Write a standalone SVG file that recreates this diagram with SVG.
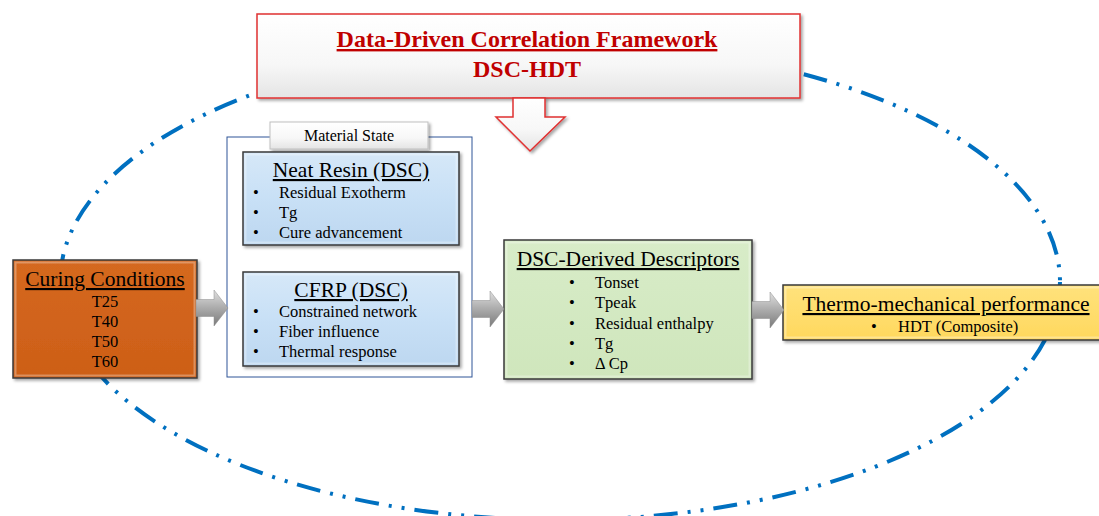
<svg xmlns="http://www.w3.org/2000/svg" width="1099" height="516" viewBox="0 0 1099 516" font-family="'Liberation Serif', 'Times New Roman', serif">
  <style>
    text { font-family: 'Liberation Serif', 'Times New Roman', serif; fill: #000; }
    .title { font-size: 21.5px; text-decoration: underline; text-anchor: middle; }
    .item { font-size: 16.5px; }
    .mid { text-anchor: middle; }
    .head { font-size: 24px; font-weight: bold; fill: #C00000; text-anchor: middle; }
    .box { stroke: #3A3A3A; stroke-width: 1.5; }
    .bevel { fill: none; stroke: #FFFFFF; stroke-opacity: 0.3; stroke-width: 2; }
  </style>
  <defs>
    <linearGradient id="gWhite" x1="0" y1="0" x2="0" y2="1">
      <stop offset="0" stop-color="#FFFFFF"/>
      <stop offset="0.6" stop-color="#F7F7F7"/>
      <stop offset="1" stop-color="#E4E4E4"/>
    </linearGradient>
    <linearGradient id="gBlue" x1="0" y1="0" x2="0" y2="1">
      <stop offset="0" stop-color="#D6E8F8"/>
      <stop offset="0.5" stop-color="#C8E0F6"/>
      <stop offset="1" stop-color="#BDD7F0"/>
    </linearGradient>
    <linearGradient id="gOrange" x1="0" y1="0" x2="0" y2="1">
      <stop offset="0" stop-color="#D56820"/>
      <stop offset="1" stop-color="#CD5F17"/>
    </linearGradient>
    <linearGradient id="gGreen" x1="0" y1="0" x2="0" y2="1">
      <stop offset="0" stop-color="#D8ECC8"/>
      <stop offset="1" stop-color="#CFE6BC"/>
    </linearGradient>
    <linearGradient id="gYellow" x1="0" y1="0" x2="0" y2="1">
      <stop offset="0" stop-color="#FFE27C"/>
      <stop offset="1" stop-color="#FFD85E"/>
    </linearGradient>
    <linearGradient id="gArrow" x1="0" y1="0" x2="0" y2="1">
      <stop offset="0" stop-color="#E0E0E0"/>
      <stop offset="0.45" stop-color="#B0B0B0"/>
      <stop offset="1" stop-color="#7A7A7A"/>
    </linearGradient>
    <filter id="shadow" x="-5%" y="-5%" width="115%" height="125%">
      <feDropShadow dx="2" dy="2" stdDeviation="1.5" flood-color="#000" flood-opacity="0.35"/>
    </filter>
    <path id="blockArrow" d="M0,-8.5 L18,-8.5 L18,-18 L32,0 L18,18 L18,8.5 L0,8.5 Z"/>
  </defs>

  <rect width="1099" height="516" fill="#FFFFFF"/>

  <!-- dash-dot-dot ellipse framing the workflow -->
  <ellipse cx="560" cy="282" rx="500" ry="238" fill="none" stroke="#0070C0" stroke-width="4" stroke-dasharray="24 10 3 10 3 10"/>

  <!-- header with downward block arrow -->
  <g id="header">
    <rect x="257" y="14" width="543" height="84" fill="url(#gWhite)" stroke="#E03030" stroke-width="1.5" filter="url(#shadow)"/>
    <text class="head" x="527" y="47" text-decoration="underline">Data-Driven Correlation Framework</text>
    <text class="head" x="527" y="77">DSC-HDT</text>
    <path d="M513,98 L545,98 L545,117 L565,117 L530,151 L496,117 L513,117 Z" fill="url(#gWhite)" stroke="#E03030" stroke-width="1.5" filter="url(#shadow)"/>
  </g>

  <g id="curing">
    <rect class="box" x="13" y="260" width="184" height="118" fill="url(#gOrange)" filter="url(#shadow)"/>
    <rect class="bevel" x="15.5" y="262.5" width="179" height="113"/>
    <text class="title" x="105" y="286">Curing Conditions</text>
    <text class="item mid" x="105" y="307">T25</text>
    <text class="item mid" x="105" y="327">T40</text>
    <text class="item mid" x="105" y="347">T50</text>
    <text class="item mid" x="105" y="367">T60</text>
  </g>

  <g id="material-state">
    <rect x="227" y="137" width="245" height="240" fill="none" stroke="#2F5597" stroke-width="1"/>
    <rect x="270" y="122" width="158" height="27" fill="url(#gWhite)" stroke="#BFBFBF" stroke-width="1" filter="url(#shadow)"/>
    <text x="349" y="141" class="mid" font-size="16">Material  State</text>
  </g>

  <g id="neat-resin">
    <rect class="box" x="243" y="152" width="216" height="93" fill="url(#gBlue)" filter="url(#shadow)"/>
    <rect class="bevel" x="245.5" y="154.5" width="211" height="88"/>
    <text class="title" x="351" y="177">Neat Resin (DSC)</text>
    <text class="item" x="253" y="198">•</text><text class="item" x="279" y="198">Residual Exotherm</text>
    <text class="item" x="253" y="218">•</text><text class="item" x="279" y="218">Tg</text>
    <text class="item" x="253" y="238">•</text><text class="item" x="279" y="238">Cure advancement</text>
  </g>

  <g id="cfrp">
    <rect class="box" x="243" y="272" width="216" height="94" fill="url(#gBlue)" filter="url(#shadow)"/>
    <rect class="bevel" x="245.5" y="274.5" width="211" height="89"/>
    <text class="title" x="351" y="297">CFRP (DSC)</text>
    <text class="item" x="253" y="317">•</text><text class="item" x="279" y="317">Constrained network</text>
    <text class="item" x="253" y="337">•</text><text class="item" x="279" y="337">Fiber influence</text>
    <text class="item" x="253" y="357">•</text><text class="item" x="279" y="357">Thermal response</text>
  </g>

  <g id="descriptors">
    <rect class="box" x="504" y="240" width="248" height="139" fill="url(#gGreen)" filter="url(#shadow)"/>
    <rect class="bevel" x="506.5" y="242.5" width="243" height="134"/>
    <text class="title" x="628" y="266">DSC-Derived Descriptors</text>
    <text class="item" x="569" y="288">•</text><text class="item" x="595" y="288">Tonset</text>
    <text class="item" x="569" y="308">•</text><text class="item" x="595" y="308">Tpeak</text>
    <text class="item" x="569" y="329">•</text><text class="item" x="595" y="329">Residual enthalpy</text>
    <text class="item" x="569" y="349">•</text><text class="item" x="595" y="349">Tg</text>
    <text class="item" x="569" y="369">•</text><text class="item" x="595" y="369">Δ Cp</text>
  </g>

  <g id="performance">
    <rect class="box" x="783" y="285" width="320" height="55" fill="url(#gYellow)" filter="url(#shadow)"/>
    <rect class="bevel" x="785.5" y="287.5" width="315" height="50"/>
    <text class="title" x="946" y="311">Thermo-mechanical performance</text>
    <text class="item" x="871" y="332">•</text><text class="item" x="898" y="332">HDT (Composite)</text>
  </g>

  <g id="connectors" fill="url(#gArrow)" stroke="#8C8C8C" stroke-width="0.5">
    <use href="#blockArrow" transform="translate(196,308)"/>
    <use href="#blockArrow" transform="translate(472,309)"/>
    <use href="#blockArrow" transform="translate(752,310)"/>
  </g>
</svg>
